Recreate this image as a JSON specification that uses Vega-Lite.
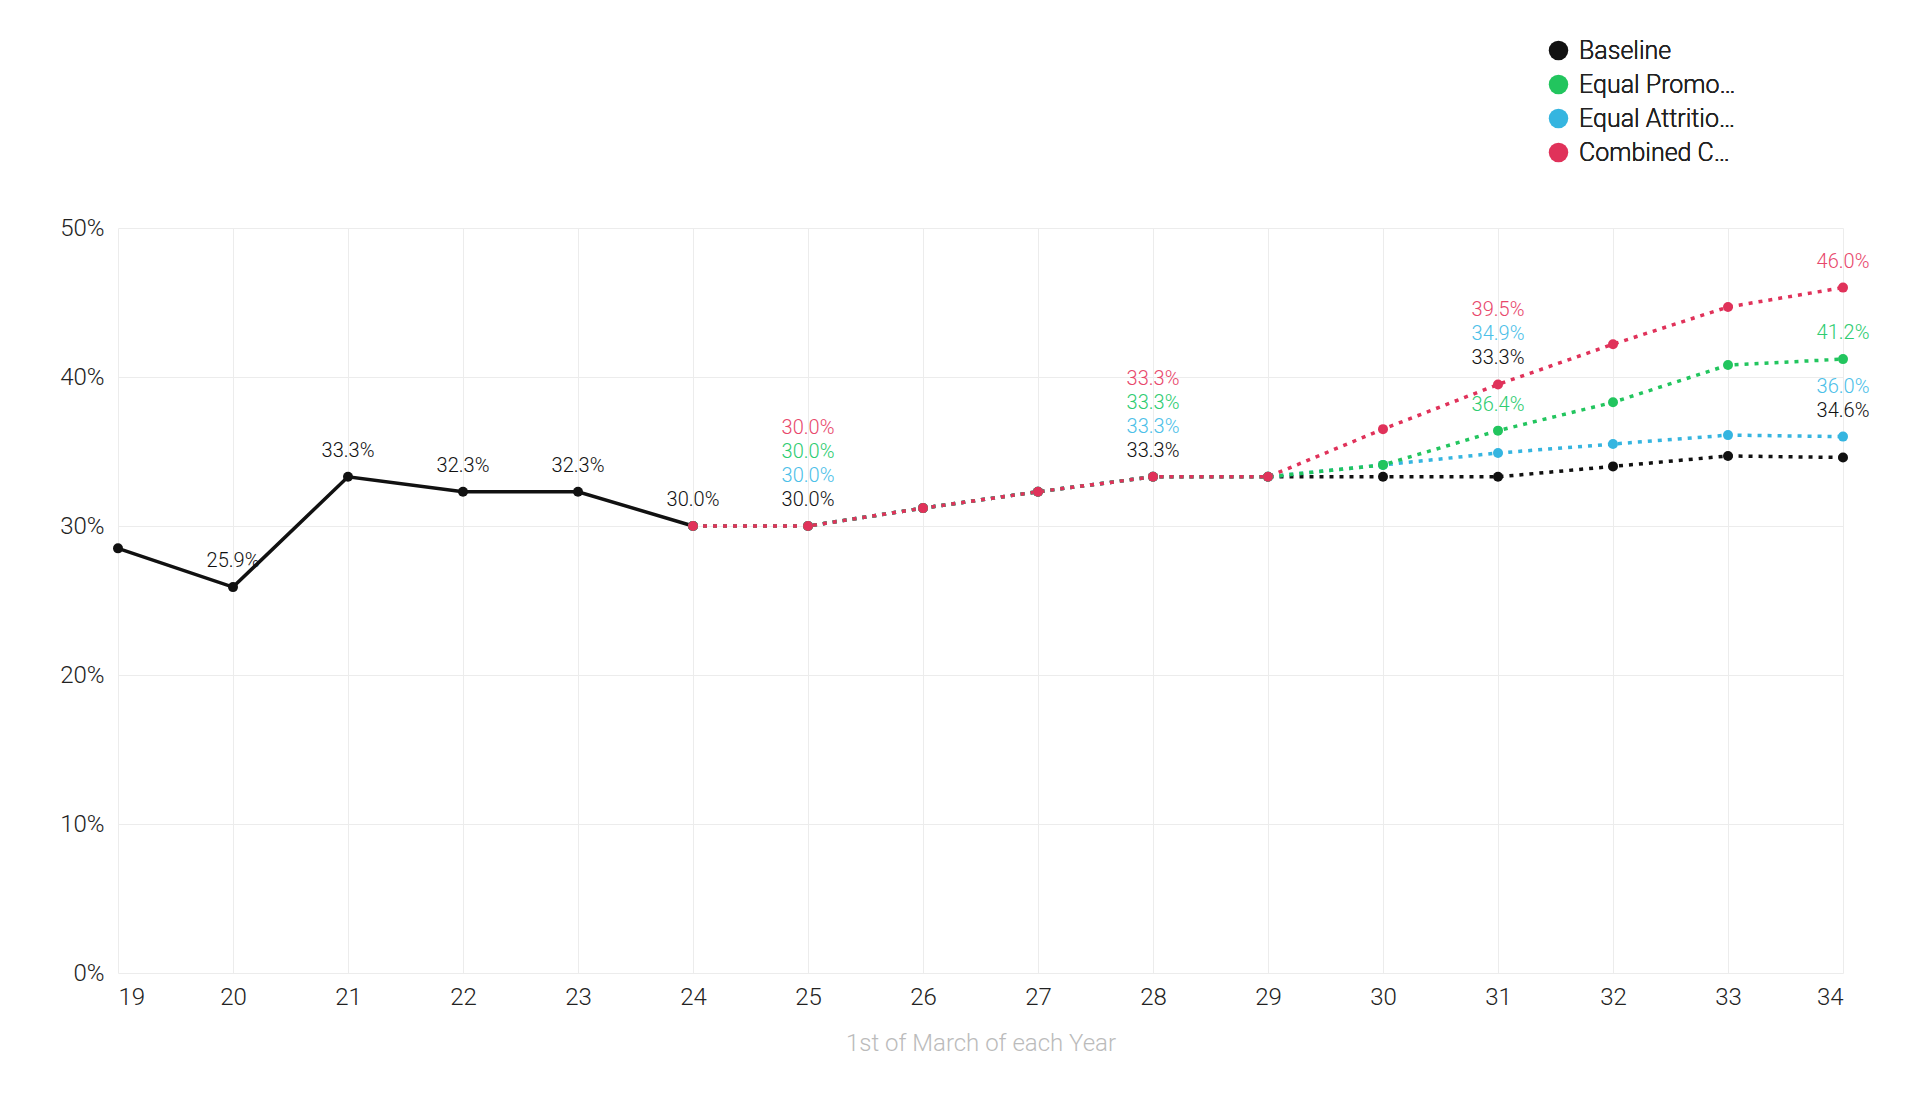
{
  "$schema": "https://vega.github.io/schema/vega-lite/v6.json",
  "width": 1725,
  "height": 745,
  "autosize": "none",
  "padding": {"left": 118, "top": 228, "right": 77, "bottom": 147},
  "background": "white",
  "config": {
    "font": "Roboto",
    "view": {"stroke": null},
    "axis": {"gridColor": "#ececec", "domain": false, "ticks": false, "labelFont": "Roboto", "labelColor": "#222", "labelFontSize": 24, "labelFontWeight": 300}
  },
  "datasets": {
    "lines": [
      {"year": 19, "value": 28.5, "series": "Baseline", "part": "actual"},
      {"year": 20, "value": 25.9, "series": "Baseline", "part": "actual"},
      {"year": 21, "value": 33.3, "series": "Baseline", "part": "actual"},
      {"year": 22, "value": 32.3, "series": "Baseline", "part": "actual"},
      {"year": 23, "value": 32.3, "series": "Baseline", "part": "actual"},
      {"year": 24, "value": 30.0, "series": "Baseline", "part": "actual"},
      {"year": 24, "value": 30.0, "series": "Baseline", "part": "projected"},
      {"year": 25, "value": 30.0, "series": "Baseline", "part": "projected"},
      {"year": 26, "value": 31.2, "series": "Baseline", "part": "projected"},
      {"year": 27, "value": 32.3, "series": "Baseline", "part": "projected"},
      {"year": 28, "value": 33.3, "series": "Baseline", "part": "projected"},
      {"year": 29, "value": 33.3, "series": "Baseline", "part": "projected"},
      {"year": 30, "value": 33.3, "series": "Baseline", "part": "projected"},
      {"year": 31, "value": 33.3, "series": "Baseline", "part": "projected"},
      {"year": 32, "value": 34.0, "series": "Baseline", "part": "projected"},
      {"year": 33, "value": 34.7, "series": "Baseline", "part": "projected"},
      {"year": 34, "value": 34.6, "series": "Baseline", "part": "projected"},
      {"year": 24, "value": 30.0, "series": "Equal Attrition Rates", "part": "projected"},
      {"year": 25, "value": 30.0, "series": "Equal Attrition Rates", "part": "projected"},
      {"year": 26, "value": 31.2, "series": "Equal Attrition Rates", "part": "projected"},
      {"year": 27, "value": 32.3, "series": "Equal Attrition Rates", "part": "projected"},
      {"year": 28, "value": 33.3, "series": "Equal Attrition Rates", "part": "projected"},
      {"year": 29, "value": 33.3, "series": "Equal Attrition Rates", "part": "projected"},
      {"year": 30, "value": 34.1, "series": "Equal Attrition Rates", "part": "projected"},
      {"year": 31, "value": 34.9, "series": "Equal Attrition Rates", "part": "projected"},
      {"year": 32, "value": 35.5, "series": "Equal Attrition Rates", "part": "projected"},
      {"year": 33, "value": 36.1, "series": "Equal Attrition Rates", "part": "projected"},
      {"year": 34, "value": 36.0, "series": "Equal Attrition Rates", "part": "projected"},
      {"year": 24, "value": 30.0, "series": "Equal Promotion Rates", "part": "projected"},
      {"year": 25, "value": 30.0, "series": "Equal Promotion Rates", "part": "projected"},
      {"year": 26, "value": 31.2, "series": "Equal Promotion Rates", "part": "projected"},
      {"year": 27, "value": 32.3, "series": "Equal Promotion Rates", "part": "projected"},
      {"year": 28, "value": 33.3, "series": "Equal Promotion Rates", "part": "projected"},
      {"year": 29, "value": 33.3, "series": "Equal Promotion Rates", "part": "projected"},
      {"year": 30, "value": 34.1, "series": "Equal Promotion Rates", "part": "projected"},
      {"year": 31, "value": 36.4, "series": "Equal Promotion Rates", "part": "projected"},
      {"year": 32, "value": 38.3, "series": "Equal Promotion Rates", "part": "projected"},
      {"year": 33, "value": 40.8, "series": "Equal Promotion Rates", "part": "projected"},
      {"year": 34, "value": 41.2, "series": "Equal Promotion Rates", "part": "projected"},
      {"year": 24, "value": 30.0, "series": "Combined Case", "part": "projected"},
      {"year": 25, "value": 30.0, "series": "Combined Case", "part": "projected"},
      {"year": 26, "value": 31.2, "series": "Combined Case", "part": "projected"},
      {"year": 27, "value": 32.3, "series": "Combined Case", "part": "projected"},
      {"year": 28, "value": 33.3, "series": "Combined Case", "part": "projected"},
      {"year": 29, "value": 33.3, "series": "Combined Case", "part": "projected"},
      {"year": 30, "value": 36.5, "series": "Combined Case", "part": "projected"},
      {"year": 31, "value": 39.5, "series": "Combined Case", "part": "projected"},
      {"year": 32, "value": 42.2, "series": "Combined Case", "part": "projected"},
      {"year": 33, "value": 44.7, "series": "Combined Case", "part": "projected"},
      {"year": 34, "value": 46.0, "series": "Combined Case", "part": "projected"}
    ],
    "labels": [
      {"year": 20, "anchor": 25.9, "slot": 0, "label": "25.9%", "series": "Baseline"},
      {"year": 21, "anchor": 33.3, "slot": 0, "label": "33.3%", "series": "Baseline"},
      {"year": 22, "anchor": 32.3, "slot": 0, "label": "32.3%", "series": "Baseline"},
      {"year": 23, "anchor": 32.3, "slot": 0, "label": "32.3%", "series": "Baseline"},
      {"year": 24, "anchor": 30.0, "slot": 0, "label": "30.0%", "series": "Baseline"},
      {"year": 25, "anchor": 30.0, "slot": 0, "label": "30.0%", "series": "Baseline"},
      {"year": 25, "anchor": 30.0, "slot": 1, "label": "30.0%", "series": "Equal Attrition Rates"},
      {"year": 25, "anchor": 30.0, "slot": 2, "label": "30.0%", "series": "Equal Promotion Rates"},
      {"year": 25, "anchor": 30.0, "slot": 3, "label": "30.0%", "series": "Combined Case"},
      {"year": 28, "anchor": 33.3, "slot": 0, "label": "33.3%", "series": "Baseline"},
      {"year": 28, "anchor": 33.3, "slot": 1, "label": "33.3%", "series": "Equal Attrition Rates"},
      {"year": 28, "anchor": 33.3, "slot": 2, "label": "33.3%", "series": "Equal Promotion Rates"},
      {"year": 28, "anchor": 33.3, "slot": 3, "label": "33.3%", "series": "Combined Case"},
      {"year": 31, "anchor": 39.5, "slot": 0, "label": "33.3%", "series": "Baseline"},
      {"year": 31, "anchor": 39.5, "slot": 1, "label": "34.9%", "series": "Equal Attrition Rates"},
      {"year": 31, "anchor": 39.5, "slot": 2, "label": "39.5%", "series": "Combined Case"},
      {"year": 31, "anchor": 36.4, "slot": 0, "label": "36.4%", "series": "Equal Promotion Rates"},
      {"year": 34, "anchor": 46.0, "slot": 0, "label": "46.0%", "series": "Combined Case"},
      {"year": 34, "anchor": 41.2, "slot": 0, "label": "41.2%", "series": "Equal Promotion Rates"},
      {"year": 34, "anchor": 36.0, "slot": 0, "label": "34.6%", "series": "Baseline"},
      {"year": 34, "anchor": 36.0, "slot": 1, "label": "36.0%", "series": "Equal Attrition Rates"}
    ]
  },
  "encoding": {
    "x": {
      "field": "year", "type": "quantitative",
      "scale": {"domain": [19, 34], "nice": false, "zero": false},
      "axis": {"values": [19,20,21,22,23,24,25,26,27,28,29,30,31,32,33,34], "format": "d", "labelPadding": 12,
        "title": "1st of March of each Year", "titleFont": "Roboto", "titleFontSize": 24, "titleFontWeight": 300, "titleColor": "#bbbbbb", "titlePadding": 22}
    },
    "y": {
      "field": "value", "type": "quantitative",
      "scale": {"domain": [0, 50], "nice": false},
      "axis": {"values": [0,10,20,30,40,50], "labelExpr": "datum.value + '%'", "labelPadding": 14, "title": null}
    },
    "color": {
      "field": "series", "type": "nominal",
      "scale": {"domain": ["Baseline", "Equal Promotion Rates", "Equal Attrition Rates", "Combined Case"],
        "range": ["#111111", "#22c55e", "#35b5e0", "#e0325a"]},
      "legend": {"orient": "none", "legendX": 1428, "legendY": -190, "title": null, "symbolType": "circle",
        "symbolSize": 380, "symbolStrokeWidth": 0, "labelFontSize": 25, "labelFont": "Roboto", "labelFontWeight": 300,
        "labelColor": "#222", "rowPadding": 8, "labelOffset": 8}
    }
  },
  "layer": [
    {
      "data": {"name": "lines"},
      "transform": [{"filter": "datum.part == 'projected'"}],
      "mark": {"type": "line", "strokeWidth": 3.5, "strokeDash": [4, 6], "strokeCap": "butt"},
      "encoding": {"detail": {"field": "series"}, "order": {"field": "year"}}
    },
    {
      "data": {"name": "lines"},
      "transform": [{"filter": "datum.part == 'actual'"}],
      "mark": {"type": "line", "strokeWidth": 3.5},
      "encoding": {}
    },
    {
      "data": {"name": "lines"},
      "mark": {"type": "circle", "size": 100, "opacity": 1},
      "encoding": {}
    },
    {
      "data": {"name": "labels"},
      "transform": [{"filter": "datum.slot == 0"}],
      "mark": {"type": "text", "fontSize": 20, "fontWeight": 300, "baseline": "middle", "dy": -26},
      "encoding": {"y": {"field": "anchor", "type": "quantitative"}, "text": {"field": "label"}, "color": {"field": "series", "legend": null, "scale": {"domain": ["Baseline", "Equal Promotion Rates", "Equal Attrition Rates", "Combined Case"], "range": ["#111111", "#2ecc71", "#4cc0e8", "#e8476b"]}}}
    },
    {
      "data": {"name": "labels"},
      "transform": [{"filter": "datum.slot == 1"}],
      "mark": {"type": "text", "fontSize": 20, "fontWeight": 300, "baseline": "middle", "dy": -50},
      "encoding": {"y": {"field": "anchor", "type": "quantitative"}, "text": {"field": "label"}, "color": {"field": "series", "legend": null, "scale": {"domain": ["Baseline", "Equal Promotion Rates", "Equal Attrition Rates", "Combined Case"], "range": ["#111111", "#2ecc71", "#4cc0e8", "#e8476b"]}}}
    },
    {
      "data": {"name": "labels"},
      "transform": [{"filter": "datum.slot == 2"}],
      "mark": {"type": "text", "fontSize": 20, "fontWeight": 300, "baseline": "middle", "dy": -74},
      "encoding": {"y": {"field": "anchor", "type": "quantitative"}, "text": {"field": "label"}, "color": {"field": "series", "legend": null, "scale": {"domain": ["Baseline", "Equal Promotion Rates", "Equal Attrition Rates", "Combined Case"], "range": ["#111111", "#2ecc71", "#4cc0e8", "#e8476b"]}}}
    },
    {
      "data": {"name": "labels"},
      "transform": [{"filter": "datum.slot == 3"}],
      "mark": {"type": "text", "fontSize": 20, "fontWeight": 300, "baseline": "middle", "dy": -98},
      "encoding": {"y": {"field": "anchor", "type": "quantitative"}, "text": {"field": "label"}, "color": {"field": "series", "legend": null, "scale": {"domain": ["Baseline", "Equal Promotion Rates", "Equal Attrition Rates", "Combined Case"], "range": ["#111111", "#2ecc71", "#4cc0e8", "#e8476b"]}}}
    }
  ],
  "resolve": {"scale": {"color": "independent"}}
}
